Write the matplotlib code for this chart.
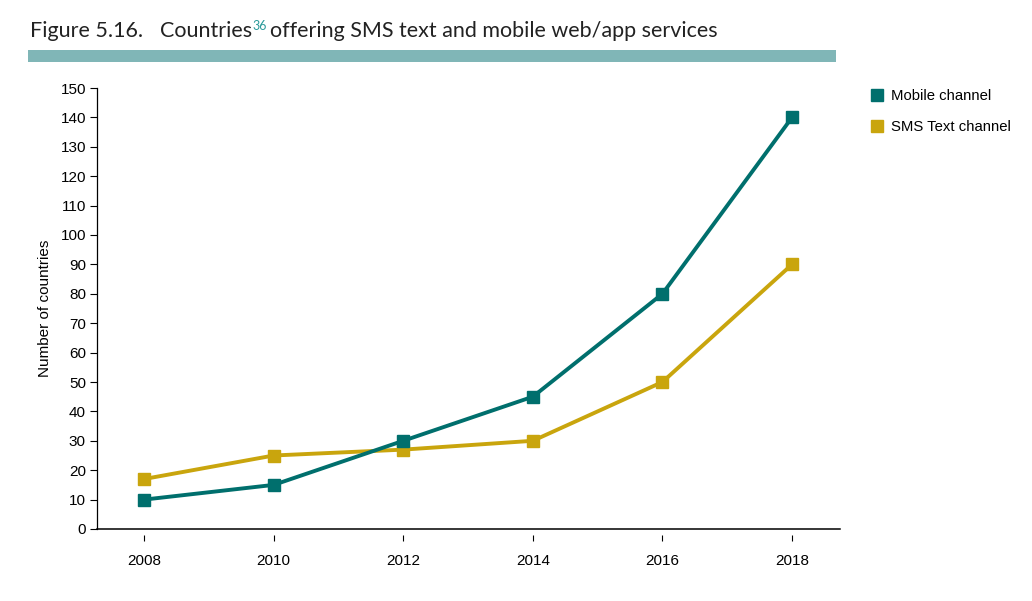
import matplotlib.pyplot as plt
from matplotlib.lines import Line2D
from matplotlib.patches import Rectangle

# Data
years = ["2008", "2010", "2012", "2014", "2016", "2018"]
mobile = [10, 15, 30, 45, 80, 140]
sms = [17, 25, 27, 30, 50, 90]

TEAL = "#006f6d"
GOLD = "#c9a50d"
BAR = "#80b6b7"

plt.rcParams["font.family"] = ["Liberation Sans", "DejaVu Sans"]

fig = plt.figure(figsize=(10.32, 6.01), dpi=100)
ax = fig.add_axes([97 / 1032, 1 - 529 / 601, (840 - 97) / 1032, (529 - 88) / 601])

x = list(range(len(years)))
ax.plot(x, mobile, color=TEAL, lw=2.8, marker="s", ms=9, clip_on=False, zorder=3)
ax.plot(x, sms, color=GOLD, lw=2.8, marker="s", ms=9, clip_on=False, zorder=2)

ax.set_xlim(-0.363, 5.37)
ax.set_ylim(0, 150)
ax.set_yticks(range(0, 151, 10))
ax.set_xticks(x)
ax.set_xticklabels(years)

# Axes styling
for s in ["top", "right"]:
    ax.spines[s].set_visible(False)
ax.spines["left"].set_linewidth(0.9)
ax.spines["bottom"].set_color("none")
ax.spines["bottom"].set_position(("outward", 4))
ax.axhline(0, color="black", lw=1.1, clip_on=False)
ax.tick_params(axis="y", length=5, width=0.8, labelsize=11, pad=3)
ax.tick_params(axis="x", length=4, width=0.8, labelsize=11, pad=10)
ax.set_ylabel("Number of countries", fontsize=11, labelpad=6)

# Title
fig.text(30 / 1032, 1 - 31 / 601, "Figure 5.16.", fontsize=15.5, family="Lato",
         va="center", color="#222222")
fig.canvas.draw()
r = fig.canvas.get_renderer()
t2 = fig.text(160 / 1032, 1 - 31 / 601, "Countries", fontsize=15.5, family="Lato",
              va="center", color="#222222")
bb = t2.get_window_extent(r)
t3 = fig.text(bb.x1 / 1032 + 0.0005, 1 - 26 / 601, "36", fontsize=9, family="Lato",
              va="center", color="#2a9a9a")
bb3 = t3.get_window_extent(r)
fig.text(bb3.x1 / 1032 + 0.003, 1 - 31 / 601, "offering SMS text and mobile web/app services",
         fontsize=15.5, family="Lato", va="center", color="#222222")
fig.patches.append(Rectangle((28 / 1032, 1 - 62 / 601), (836 - 28) / 1032, 12 / 601,
                             transform=fig.transFigure, color=BAR, lw=0))

# Legend
handles = [Line2D([], [], color=TEAL, marker="s", ls="none", ms=9),
           Line2D([], [], color=GOLD, marker="s", ls="none", ms=9)]
fig.legend(handles, ["Mobile channel", "SMS Text channel"], loc="upper left",
           bbox_to_anchor=(852 / 1032, 1 - 76 / 601), frameon=False, fontsize=10.7,
           handletextpad=0.25, labelspacing=1.1, handlelength=1.5)

fig.savefig("out.png", dpi=100)
